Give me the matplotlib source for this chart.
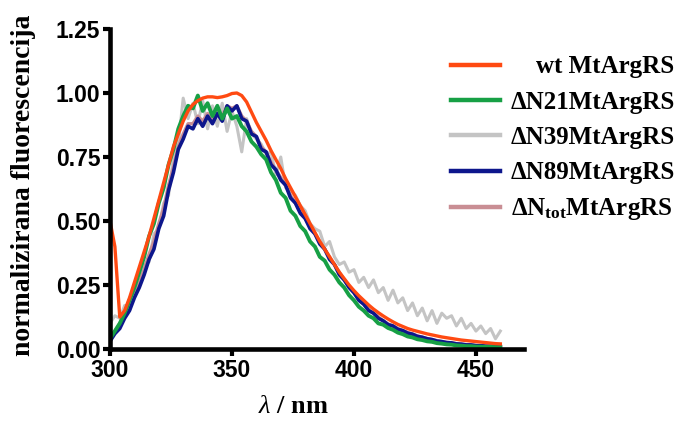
import numpy as np
import matplotlib
matplotlib.use("Agg")
import matplotlib.pyplot as plt

plt.rcParams['mathtext.fontset'] = 'custom'
plt.rcParams['mathtext.rm'] = 'Liberation Serif:bold'
plt.rcParams['mathtext.it'] = 'Liberation Serif:italic'
plt.rcParams['mathtext.bf'] = 'Liberation Serif:bold'

# wavelength grid (nm)
wavelength = list(range(300, 462, 2))

wt = [0.50, 0.40, 0.125, 0.15, 0.20, 0.26, 0.32, 0.38, 0.44, 0.51,
      0.58, 0.65, 0.72, 0.79, 0.84, 0.89, 0.93, 0.955, 0.97, 0.98,
      0.985, 0.985, 0.982, 0.985, 0.99, 0.998, 1.0, 0.99, 0.965, 0.925,
      0.885, 0.85, 0.815, 0.775, 0.74, 0.705, 0.665, 0.63, 0.595, 0.56,
      0.525, 0.49, 0.455, 0.42, 0.39, 0.36, 0.33, 0.30, 0.275, 0.25,
      0.228, 0.208, 0.19, 0.172, 0.156, 0.142, 0.129, 0.117, 0.106, 0.096,
      0.088, 0.080, 0.074, 0.069, 0.064, 0.059, 0.055, 0.051, 0.047, 0.044,
      0.041, 0.038, 0.035, 0.033, 0.031, 0.029, 0.027, 0.025, 0.023, 0.021, 0.020]

dN21 = [0.04, 0.07, 0.10, 0.14, 0.19, 0.24, 0.30, 0.36, 0.44, 0.49,
        0.57, 0.63, 0.72, 0.78, 0.86, 0.91, 0.95, 0.94, 0.99, 0.93,
        0.96, 0.91, 0.95, 0.90, 0.94, 0.90, 0.91, 0.87, 0.85, 0.81,
        0.79, 0.76, 0.74, 0.69, 0.66, 0.61, 0.59, 0.54, 0.52, 0.48,
        0.46, 0.42, 0.40, 0.36, 0.345, 0.31, 0.29, 0.26, 0.24, 0.21,
        0.19, 0.165, 0.15, 0.13, 0.12, 0.10, 0.095, 0.082, 0.075, 0.064,
        0.058, 0.049, 0.045, 0.038, 0.035, 0.030, 0.028, 0.023, 0.021, 0.018,
        0.017, 0.014, 0.013, 0.011, 0.011, 0.009, 0.009, 0.008, 0.008, 0.007, 0.007]

dN39 = [0.10, 0.13, 0.12, 0.17, 0.15, 0.24, 0.25, 0.33, 0.34, 0.45,
        0.47, 0.57, 0.60, 0.75, 0.80, 0.98, 0.90, 0.96, 0.88, 0.97,
        0.86, 0.95, 0.87, 0.96, 0.85, 0.93, 0.87, 0.77, 0.90, 0.84,
        0.82, 0.80, 0.76, 0.77, 0.68, 0.75, 0.63, 0.62, 0.60, 0.56,
        0.54, 0.49, 0.47, 0.46, 0.40, 0.42, 0.36, 0.33, 0.34, 0.30,
        0.31, 0.26, 0.28, 0.24, 0.27, 0.22, 0.24, 0.19, 0.23, 0.18,
        0.20, 0.15, 0.18, 0.13, 0.16, 0.11, 0.15, 0.10, 0.14, 0.12,
        0.13, 0.09, 0.12, 0.08, 0.10, 0.07, 0.09, 0.06, 0.08, 0.04, 0.07]

dN89 = [0.03, 0.06, 0.08, 0.12, 0.15, 0.20, 0.24, 0.29, 0.35, 0.39,
        0.47, 0.52, 0.62, 0.69, 0.78, 0.82, 0.87, 0.86, 0.90, 0.87,
        0.91, 0.88, 0.92, 0.89, 0.95, 0.93, 0.95, 0.90, 0.89, 0.84,
        0.83, 0.78, 0.77, 0.72, 0.70, 0.66, 0.64, 0.59, 0.57, 0.53,
        0.51, 0.47, 0.45, 0.41, 0.39, 0.35, 0.33, 0.29, 0.27, 0.24,
        0.22, 0.19, 0.175, 0.15, 0.14, 0.12, 0.11, 0.095, 0.09, 0.077,
        0.072, 0.062, 0.058, 0.049, 0.046, 0.040, 0.037, 0.031, 0.029, 0.025,
        0.024, 0.020, 0.019, 0.016, 0.016, 0.013, 0.013, 0.011, 0.011, 0.010, 0.010]

dNtot = [0.05, 0.07, 0.10, 0.13, 0.17, 0.21, 0.26, 0.31, 0.37, 0.42,
         0.49, 0.55, 0.64, 0.71, 0.79, 0.84, 0.88, 0.88, 0.91, 0.89,
         0.92, 0.90, 0.93, 0.91, 0.95, 0.94, 0.95, 0.91, 0.89, 0.85,
         0.83, 0.79, 0.77, 0.73, 0.70, 0.67, 0.64, 0.60, 0.57, 0.54,
         0.51, 0.48, 0.45, 0.42, 0.39, 0.36, 0.33, 0.30, 0.27, 0.245,
         0.22, 0.195, 0.175, 0.155, 0.14, 0.125, 0.11, 0.098, 0.09, 0.08,
         0.072, 0.065, 0.058, 0.052, 0.046, 0.041, 0.037, 0.033, 0.029, 0.026,
         0.024, 0.021, 0.019, 0.017, 0.016, 0.014, 0.013, 0.012, 0.011, 0.010, 0.010]

labels = ["    wt MtArgRS", "ΔN21MtArgRS", "ΔN39MtArgRS", "ΔN89MtArgRS",
          r"ΔN$_{\mathrm{tot}}$MtArgRS"]
colors = ["#FF4A12", "#17A045", "#C4C4C4", "#0D168C", "#C98E94"]
x_ticks = [300, 350, 400, 450]
y_ticks = [0.00, 0.25, 0.50, 0.75, 1.00, 1.25]

fig = plt.figure(figsize=(6.77, 4.22), dpi=100)
ax = fig.add_axes([110/677, 1-349/422, 414/677, 320/422])

series = [wt, dN21, dN39, dN89, dNtot]
widths = [2.4, 2.8, 2.2, 2.6, 2.4]
order = [2, 4, 3, 1, 0]
handles = {}
for i in order:
    ln, = ax.plot(wavelength, series[i], color=colors[i], lw=widths[i],
                  label=labels[i], solid_joinstyle='round', clip_on=True)
    handles[i] = ln

ax.set_xlim(300, 469.7)
ax.set_ylim(0, 1.25)
ax.set_xticks(x_ticks)
ax.set_yticks(y_ticks)
ax.set_yticklabels([f"{v:.2f}" for v in y_ticks])
for s in ['top', 'right']:
    ax.spines[s].set_visible(False)
for s in ['left', 'bottom']:
    ax.spines[s].set_linewidth(3.3)
ax.tick_params(axis='both', direction='out', length=5, width=3.0,
               labelsize=16.5, pad=2)
for lab in ax.get_xticklabels() + ax.get_yticklabels():
    lab.set_fontfamily('Liberation Sans')
    lab.set_fontweight('bold')

ax.set_ylabel("normalizirana fluorescencija", family='Liberation Serif',
              fontweight='bold', fontsize=20)
ax.yaxis.set_label_coords(-0.178, 0.51)
ax.set_xlabel(r"$\lambda$ / nm", family='Liberation Serif',
              fontweight='bold', fontsize=19)
ax.xaxis.set_label_coords(0.442, -0.145)

leg = ax.legend([handles[i] for i in range(5)], labels,
                loc='upper left', bbox_to_anchor=(451/677, 1-55.5/422),
                bbox_transform=fig.transFigure, frameon=False,
                prop={'family': 'Liberation Serif', 'weight': 'bold', 'size': 18},
                handlelength=1.96, handletextpad=0.44, labelspacing=0.49,
                borderaxespad=0, borderpad=0)
for ln in leg.get_lines():
    ln.set_linewidth(3.2)

fig.savefig("out.png", dpi=100)
